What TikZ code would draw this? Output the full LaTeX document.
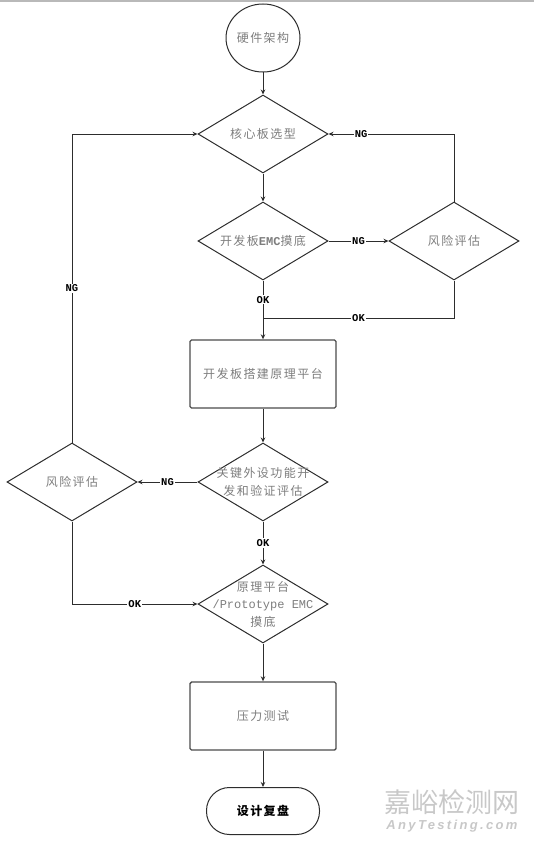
\documentclass[tikz,border=0pt]{standalone}
\usepackage{fontspec}
\setmonofont{Liberation Mono}
\newfontfamily\cjk[LetterSpace=12]{Noto Sans CJK SC}
\newfontfamily\cjkmark{Noto Sans CJK SC}
\newfontfamily\marksans[LetterSpace=18]{Liberation Sans}
\usepackage{xcolor}
\usetikzlibrary{arrows.meta, shapes.geometric, positioning, calc}
\definecolor{flowline}{RGB}{45,45,45}
\definecolor{flowtext}{RGB}{125,125,125}
\definecolor{markgray}{RGB}{200,200,200}

\begin{document}
\begin{tikzpicture}[x=1pt, y=-1pt,
    every node/.style={font=\cjk\fontsize{12}{17.5}\selectfont, text=flowtext, align=center},
    start/.style={ellipse, draw=flowline, line width=1pt, minimum width=62pt, minimum height=68pt, inner sep=0pt},
    decision/.style={diamond, draw=flowline, line width=1pt, minimum width=130pt, minimum height=78pt, inner sep=0pt, aspect=1.67},
    process/.style={rectangle, draw=flowline!85, line width=1.4pt, rounded corners=1.5pt, minimum width=146pt, minimum height=68pt},
    terminal/.style={rectangle, rounded corners=23pt, draw=flowline, line width=1pt, minimum width=113pt, minimum height=47pt, text=black, font=\cjk\bfseries\fontsize{12}{12}\selectfont},
    flow/.style={draw=flowline, line width=1pt, -{Stealth[length=5pt, width=4.5pt]}},
    link/.style={draw=flowline, line width=1pt},
    tag/.style={font=\ttfamily\bfseries\fontsize{10.5}{10.5}\selectfont, text=black, fill=white, inner sep=1pt}]

    \useasboundingbox (0,0) rectangle (534,843);

    % page edge
    \draw[gray!55, line width=1.2pt] (0,1) -- (534,1);

    % main column
    \node[start] (hw) at (263,38) {硬件架构};
    \node[decision] (core) at (263,134) {核心板选型};
    \node[decision] (emc) at (263,241) {开发板{\ttfamily\bfseries EMC}摸底};
    \node[process] (proto) at (263,374) {开发板搭建原理平台};
    \node[decision, inner sep=-12pt] (periph) at (263,482) {关键外设功能开\\发和验证评估};
    \node[decision, inner sep=-14pt] (pemc) at (263,604)
      {原理平台\\{\ttfamily /Prototype EMC}\\摸底};
    \node[process] (stress) at (263,716) {压力测试};
    \node[terminal] (review) at (263,811) {设计复盘};

    % risk checks
    \node[decision] (riskA) at (454,241) {风险评估};
    \node[decision] (riskB) at (72,482) {风险评估};
    \coordinate (join) at (263,318);

    % straight flow
    \draw[flow] (hw) -- (core);
    \draw[flow] (core) -- (emc);
    \draw[flow] (emc) -- node[tag, pos=0.33] {OK} (proto);
    \draw[flow] (proto) -- (periph);
    \draw[flow] (periph) -- node[tag] {OK} (pemc);
    \draw[flow] (pemc) -- (stress);
    \draw[flow] (stress) -- (review);

    % right loop
    \draw[flow] (emc) -- node[tag] {NG} (riskA);
    \draw[flow] (riskA.north) |- node[tag, pos=0.87] {NG} (core.east);
    \draw[link] (riskA.south) |- node[tag, pos=0.75] {OK} (join);

    % left loop
    \draw[flow] (periph) -- node[tag] {NG} (riskB);
    \draw[flow] (riskB.north) |- node[tag, pos=0.25] {NG} (core.west);
    \draw[flow] (riskB.south) |- node[tag, pos=0.75] {OK} (pemc.west);

    % watermark
    \node[font=\cjkmark\fontsize{27}{27}\selectfont, text=markgray] (markcn) at (452,802) {嘉峪检测网};
    \node[font=\marksans\bfseries\itshape\fontsize{13}{13}\selectfont, text=markgray] (marken) at (452,826) {AnyTesting.com};

\end{tikzpicture}
\end{document}
